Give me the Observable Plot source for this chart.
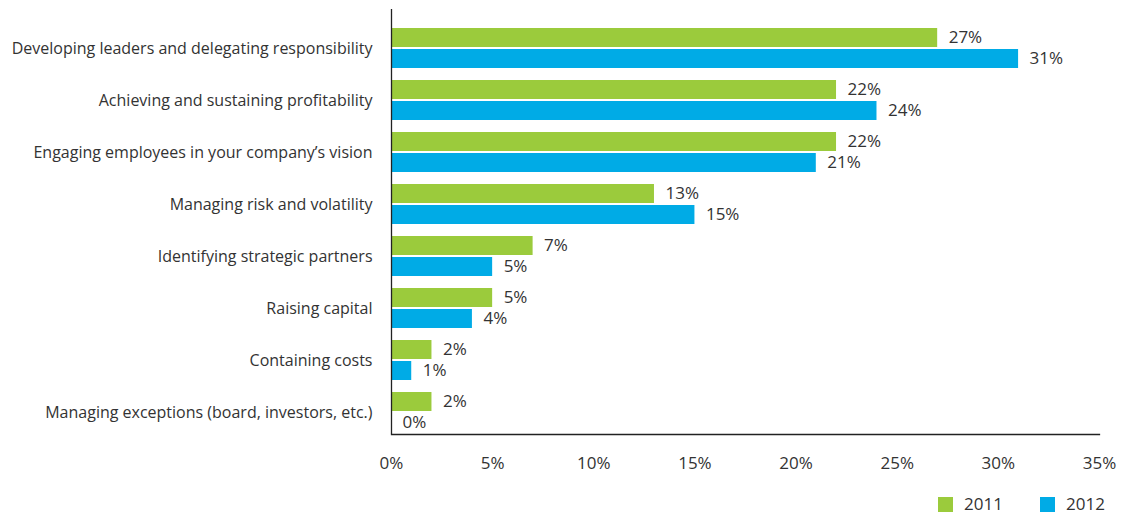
<!DOCTYPE html>
<html>
<head>
<meta charset="utf-8">
<script src="https://cdn.jsdelivr.net/npm/d3@7"></script>
<script src="https://cdn.jsdelivr.net/npm/@observablehq/plot@0.6"></script>
<style>
  body { margin: 0; background: #fff; font-family: "Open Sans", sans-serif; }
  #chart { position: relative; width: 1129px; }
  #legend { position: relative; width: 1129px; height: 36px; font-family: "Open Sans", sans-serif; font-size: 17px; color: #333; }
  .sw { position: absolute; width: 15px; height: 15px; top: 17px; }
  .lt { position: absolute; top: 12px; line-height: 24px; }
</style>
</head>
<body>
<div id="chart"></div>
<div id="legend"></div>
<script>
const categories = [
  "Developing leaders and delegating responsibility",
  "Achieving and sustaining profitability",
  "Engaging employees in your company’s vision",
  "Managing risk and volatility",
  "Identifying strategic partners",
  "Raising capital",
  "Containing costs",
  "Managing exceptions (board, investors, etc.)"
];
const values2011 = [27, 22, 22, 13, 7, 5, 2, 2];
const values2012 = [31, 24, 21, 15, 5, 4, 1, 0];
const xTicks = [0, 5, 10, 15, 20, 25, 30, 35];
const seriesNames = ["2011", "2012"];
const seriesColors = ["#9bcb3c", "#00abe6"];

const rows2011 = categories.map((c, i) => ({category: c, value: values2011[i]}));
const rows2012 = categories.map((c, i) => ({category: c, value: values2012[i]}));

const plot = Plot.plot({
  width: 1129,
  height: 480,
  marginLeft: 391,
  marginRight: 30,
  marginTop: 9,
  marginBottom: 46,
  style: {fontFamily: "Open Sans, sans-serif", fontSize: "16px", color: "#333"},
  x: {domain: [0, 35], axis: null},
  y: {domain: categories, paddingInner: 0.2308, paddingOuter: 0.2, align: 0.905, axis: null},
  marks: [
    Plot.barX(rows2011, {x: "value", y: "category", fill: seriesColors[0], insetBottom: 21}),
    Plot.barX(rows2012, {x: "value", y: "category", fill: seriesColors[1], insetTop: 21}),
    Plot.text(rows2011, {x: "value", y: "category", text: d => d.value + "%", dx: 11, dy: -10.5, textAnchor: "start", fill: "#333", fontSize: 17}),
    Plot.text(rows2012, {x: "value", y: "category", text: d => d.value + "%", dx: 11, dy: 10.5, textAnchor: "start", fill: "#333", fontSize: 17}),
    Plot.axisY({tickSize: 0, tickPadding: 19, fontSize: 16, color: "#333", label: null}),
    Plot.axisX({ticks: xTicks, tickFormat: d => d + "%", tickSize: 0, tickPadding: 22, fontSize: 17, color: "#333", label: null}),
    Plot.ruleX([0], {stroke: "#222", strokeWidth: 1.3}),
    Plot.frame({anchor: "bottom", stroke: "#222", strokeWidth: 1.3})
  ]
});
document.getElementById("chart").appendChild(plot);

const legend = document.getElementById("legend");
const swX = [938, 1040];
const txX = [964, 1066];
seriesNames.forEach((name, i) => {
  const s = document.createElement("div");
  s.className = "sw";
  s.style.left = swX[i] + "px";
  s.style.background = seriesColors[i];
  legend.appendChild(s);
  const t = document.createElement("div");
  t.className = "lt";
  t.style.left = txX[i] + "px";
  t.textContent = name;
  legend.appendChild(t);
});
</script>
</body>
</html>
